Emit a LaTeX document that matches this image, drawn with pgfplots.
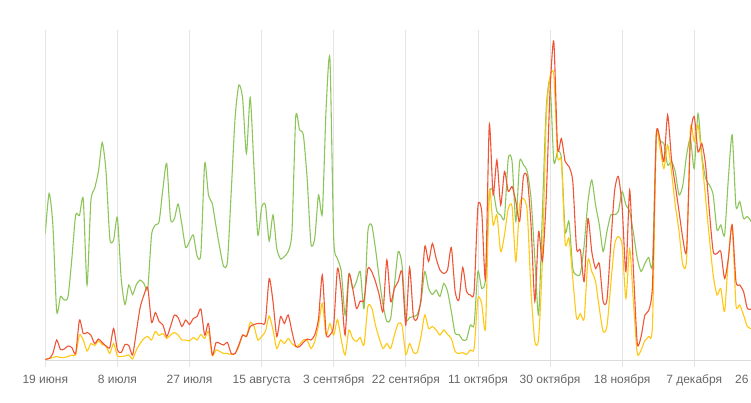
\documentclass[border=0pt]{standalone}
\usepackage{pgfplots}
\pgfplotsset{compat=1.18}
\usepackage{pgfplotstable}
\usepackage{fontspec}
\setmainfont{Liberation Sans}
\definecolor{cg}{RGB}{140,198,90}
\definecolor{cr}{RGB}{240,85,55}
\definecolor{cy}{RGB}{255,200,20}
\definecolor{gridc}{RGB}{228,228,228}
\definecolor{axisc}{RGB}{220,220,220}
\definecolor{labc}{RGB}{102,102,102}
\pgfplotstableread{
d g r y
0 127 1.2 1
1 167 2 2
2 135.5 7 3
3 49 20.5 4
4 64 11 3
5 60.5 11.5 3
6 64 14.5 4
7 102 13 5.5
8 145.5 7 5.5
9 145 40.5 25.5
10 161.5 27 20.5
11 75.5 28 9.5
12 159 25.5 17
13 172 17 15
14 189 21.5 19.5
15 218 18 16
16 189 14.5 14.5
17 122 13 7
18 120.5 32 17
19 143 10.5 4.5
20 82 8 4
21 56 16 4.5
22 75.5 15 5.5
23 66 5.5 1.5
24 76 29 10.5
25 80.5 53 17
26 77 65.5 22
27 72 73 24
28 125.5 38 20.5
29 135.5 48 29
30 139 39 25
31 172 35.5 27
32 197 24 22
33 141.5 34 25.5
34 141.5 45.5 28
35 156.5 43 25.5
36 135.5 34 20.5
37 113 40.5 20.5
38 119 36 19.5
39 125.5 42 23
40 104.5 44 20.5
41 107 51.5 26
42 197 25.5 22
43 165.5 37 29
44 157 5.5 5
45 134 18 10.5
46 112 17 9
47 94 15.5 7
48 99 18 7
49 169 7 6
50 242 7 7
51 275.5 15.5 14
52 262 25.5 25.5
53 207 24 24
54 263 34 38
55 192 36 34
56 125.5 37 20.5
57 153 37 24
58 155.5 39 29
59 119.5 82 44.5
60 145.5 59 30.5
61 112 24 12
62 101.5 44 20.5
63 104 37 17
64 109 45.5 22
65 129 29 17
66 244 14 14
67 230.5 14 16
68 225.5 18 20.5
69 182 21.5 20.5
70 117 20.5 12
71 122 25.5 19
72 165.5 42 35.5
73 147 85.5 57
74 252 27 25.5
75 302 25.5 37
76 122 35.5 25.5
77 102 92 41
78 89 69 20.5
79 45.5 25.5 5.5
80 87 85.5 30.5
81 72 72 22
82 79 52 19
83 89 59.5 23
84 52 60.5 15.5
85 129 92 54
86 135.5 89 53
87 112 79 35.5
88 82 65.5 22
89 55.5 49 12
90 39 100.5 17
91 42 59 12
92 75.5 72 25.5
93 109 79 37
94 95.5 89 35
95 42 35.5 6
96 43 93 17
97 44 44 8
98 46 42 8
99 59 62 24
100 89 114 45.5
101 72 99 32
102 66 117 34
103 70.5 102 30.5
104 64 90.5 25.5
105 77 87 30.5
106 69 90.5 26
107 49 113 22
108 27 69 9
109 26 60.5 7
110 20.5 93 8
111 21 69 6
112 35.5 65.5 10.5
113 36 69 12
114 89 154 62
115 72 149 57
116 82 82 33
117 165.5 235.5 169
118 170 165.5 135.5
119 149 200.5 145.5
120 145.5 155.5 109
121 143 189 125.5
122 202 169 152
123 199 174 154
124 139 159 99
125 199 139 155.5
126 195.5 184 162
127 189 183 149
128 162 135.5 69
129 102 59 19
130 45.5 129 22
131 149 99 102
132 252 162 242
133 279 269 284
134 199 319 285.5
135 209 212 204
136 202 222 199
137 129 199 117
138 139 194 122
139 92 179 82
140 85.5 112 42
141 87 110.5 47
142 115.5 79 42
143 159 142 100.5
144 180.5 109 89
145 155.5 92 79
146 135.5 97 52
147 109 59 29
148 129 60.5 34
149 145.5 115.5 75.5
150 146 169 115.5
151 149 184 124
152 169 154 115.5
153 155.5 89 62
154 149 170.5 112
155 127 89 57
156 102 17 7
157 89 24 10.5
158 97 45.5 20
159 103 50 24
160 97 75.5 35.5
161 225.5 225.5 222
162 219 220.5 212
163 217 199 192
164 195.5 245.5 215.5
165 199 202 189
166 189 175.5 155.5
167 165.5 149 129
168 175.5 122 95.5
169 205.5 110.5 102
170 222 222 232
171 192 244 219
172 247 208.5 235.5
173 205.5 217 202
174 182 195.5 162
175 175.5 149 122
176 165.5 109 85.5
177 130.5 107 65.5
178 135.5 109 72
179 125.5 82 49
180 182 102 102
181 225.5 135.5 135.5
182 154 79 55.5
183 159 75.5 55.5
184 142 69 45.5
185 144 52 34
186 139 51.5 32
}\data
\begin{document}
\begin{tikzpicture}[x=1pt,y=1pt]
\useasboundingbox (0,0) rectangle (751,402);
\clip (0,0) rectangle (751,402);
\begin{axis}[
  at={(45.3pt,41.5pt)}, anchor=south west,
  scale only axis, width=728.6pt, height=330pt,
  xmin=0, xmax=192, ymin=0, ymax=330,
  axis x line*=bottom, axis y line=none,
  x axis line style={color=axisc, line width=0.8pt, -},
  xtick={0,19,...,190},
  xticklabels={19 июня, 8 июля, 27 июля, 15 августа, 3 сентября, 22 сентября, 11 октября, 30 октября, 18 ноября, 7 декабря, 26 декабря},
  xmajorgrids, grid style={color=gridc, line width=0.8pt},
  tick align=outside, major tick length=6pt,
  x tick style={color=gridc, line width=0.8pt},
  xticklabel style={font=\fontsize{12}{14}\selectfont, text=labc, yshift=-5pt},
  ytick=\empty,
]
\addplot[cg, line width=1.1pt, smooth, tension=0.4] table[x=d,y=g]{\data};
\addplot[cy, line width=1.1pt, smooth, tension=0.4] table[x=d,y=y]{\data};
\addplot[cr, line width=1.1pt, smooth, tension=0.4] table[x=d,y=r]{\data};
\end{axis}
\end{tikzpicture}
\end{document}
